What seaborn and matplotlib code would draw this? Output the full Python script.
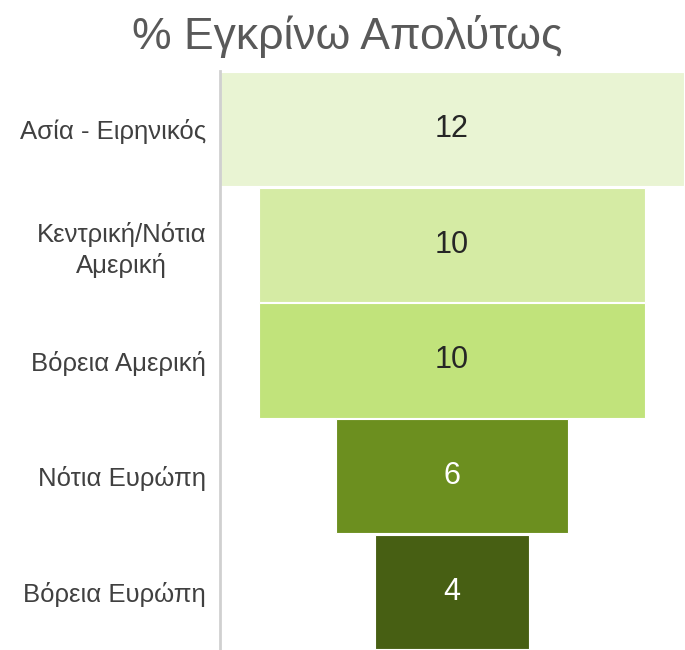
import numpy as np
import pandas as pd
import matplotlib
matplotlib.use("Agg")
import matplotlib.pyplot as plt
import seaborn as sns

# data
regions = ["Ασία - Ειρηνικός", "Κεντρική/Νότια\nΑμερική", "Βόρεια Αμερική",
           "Νότια Ευρώπη", "Βόρεια Ευρώπη"]
values = [12, 10, 10, 6, 4]
bar_colors = ["#e9f4d3", "#d5eba4", "#c1e37b", "#6c8f1f", "#475f13"]
label_colors = ["#262626", "#262626", "#262626", "white", "white"]

sns.set_theme(style="white")
plt.rcParams["font.family"] = ["Liberation Sans", "DejaVu Sans"]

df = pd.DataFrame({"region": regions, "value": values})

fig = plt.figure(figsize=(6.85, 6.5), dpi=100)
ax = fig.add_axes([220 / 685, 0, 464 / 685, 579 / 650])

sns.barplot(data=df, x="value", y="region", hue="region", palette=bar_colors,
            legend=False, orient="h", width=0.985, saturation=1,
            edgecolor="white", linewidth=0.8, ax=ax)

# center each bar to make the funnel
for p, v in zip(ax.patches, values):
    p.set_x(-v / 2)
    p.set_width(v)

for i, (v, c) in enumerate(zip(values, label_colors)):
    ax.text(0, i, str(v), ha="center", va="center", fontsize=22, color=c)

ax.set_xlim(-6, 6)
ax.set_ylim(4.5, -0.5)
ax.set_xlabel("")
ax.set_ylabel("")
ax.set_xticks([])
for s in ["top", "right", "bottom"]:
    ax.spines[s].set_visible(False)
ax.spines["left"].set_color("#d0d0d0")
ax.spines["left"].set_linewidth(2)
ax.spines["left"].set_zorder(5)
ax.tick_params(axis="y", length=0, pad=10, labelsize=18.5, labelcolor="#404040")
for lab in ax.get_yticklabels():
    lab.set_multialignment("center")
    lab.set_linespacing(1.3)

fig.text(347 / 685, 1 - 36 / 650, "% Εγκρίνω Απολύτως", ha="center", va="center",
         fontsize=32, color="#595959")

fig.savefig("out.png", dpi=100)
